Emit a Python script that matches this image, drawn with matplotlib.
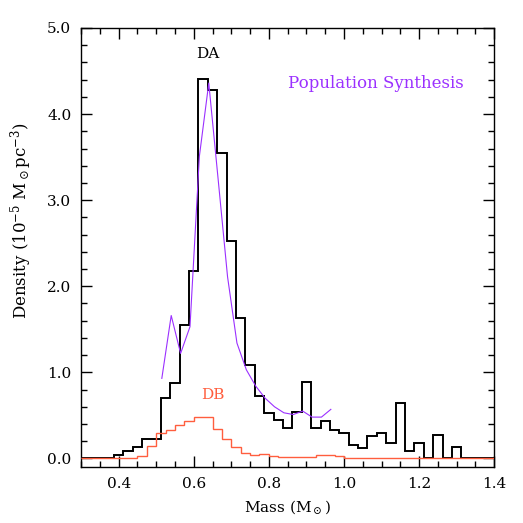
"""White dwarf mass distribution: DA / DB histograms with population synthesis curve."""

import matplotlib
matplotlib.use("Agg")
import matplotlib.pyplot as plt
import matplotlib.ticker as ticker
import numpy as np

# ── Colors ───────────────────────────────────────────────────────────────────
BLACK = "#000000"
DB_RED = "#FF5E3E"
PURPLE = "#9B30FF"

# ── Data ─────────────────────────────────────────────────────────────────────
# DA histogram: bin centres (Msun) and density
da_centers = np.round(np.arange(0.300, 1.4001, 0.025), 3)
da_density = [
    0.01, 0.01, 0.01, 0.01, 0.035, 0.09, 0.13, 0.22, 0.23, 0.70,
    0.875, 1.55, 2.18, 4.41, 4.28, 3.55, 2.52, 1.63, 1.08, 0.73,
    0.53, 0.45, 0.35, 0.535, 0.885, 0.355, 0.43, 0.335, 0.30, 0.16,
    0.12, 0.265, 0.30, 0.18, 0.645, 0.09, 0.18, 0.01, 0.27, 0.01,
    0.13, 0.01, 0.01, 0.01, 0.01,
]

# DB histogram: bin edges and density
db_edges = np.round(np.arange(0.300, 1.4001, 0.025), 3)
db_density = [
    0.005, 0.005, 0.005, 0.005, 0.005, 0.005, 0.025, 0.14, 0.29, 0.335,
    0.39, 0.44, 0.48, 0.48, 0.34, 0.22, 0.13, 0.06, 0.043, 0.055,
    0.03, 0.018, 0.018, 0.02, 0.02, 0.04, 0.045, 0.03, 0.005, 0.005,
    0.005, 0.005, 0.005, 0.005, 0.005, 0.005, 0.005, 0.005, 0.005, 0.005,
    0.005, 0.005, 0.005, 0.005,
]

# Population synthesis curve
pop_mass = [0.515, 0.54, 0.565, 0.59, 0.615, 0.64, 0.665, 0.69, 0.715, 0.74,
            0.765, 0.79, 0.815, 0.84, 0.865, 0.89, 0.915, 0.94, 0.965]
pop_density = [0.93, 1.66, 1.22, 1.53, 3.51, 4.36, 3.24, 2.11, 1.34, 1.03,
               0.84, 0.70, 0.60, 0.53, 0.51, 0.55, 0.48, 0.48, 0.57]

# ── Style ────────────────────────────────────────────────────────────────────
plt.rcParams.update({
    "font.family": "DejaVu Serif",
    "font.size": 11,
    "mathtext.fontset": "dejavuserif",
    "mathtext.default": "regular",
})

fig = plt.figure(figsize=(5.23, 5.23), dpi=100)
ax = fig.add_axes([0.155, 0.107, 0.79, 0.8395])

da_edges = np.append(da_centers - 0.0125, da_centers[-1] + 0.0125)
ax.stairs(da_density, da_edges, baseline=None, color=BLACK, linewidth=1.4, zorder=3)
ax.stairs(db_density, db_edges, baseline=None, color=DB_RED, linewidth=1.0, zorder=4)
ax.plot(pop_mass, pop_density, color=PURPLE, linewidth=0.8, zorder=5)

ax.set_xlim(0.3, 1.4)
ax.set_ylim(-0.1, 5.0)

ax.xaxis.set_major_locator(ticker.MultipleLocator(0.2))
ax.xaxis.set_minor_locator(ticker.MultipleLocator(0.05))
ax.yaxis.set_major_locator(ticker.MultipleLocator(1.0))
ax.yaxis.set_minor_locator(ticker.MultipleLocator(0.2))
ax.xaxis.set_major_formatter(ticker.FormatStrFormatter("%.1f"))
ax.yaxis.set_major_formatter(ticker.FormatStrFormatter("%.1f"))

ax.tick_params(which="both", direction="in", top=True, right=True, width=1.0)
ax.tick_params(which="major", length=8, pad=7, labelsize=11)
ax.tick_params(which="minor", length=4)
for s in ax.spines.values():
    s.set_linewidth(1.0)

ax.set_xlabel(r"Mass (M$_\odot$)", fontsize=11)
ax.set_ylabel(r"Density (10$^{-5}$ M$_\odot$pc$^{-3}$)", fontsize=12)
ax.xaxis.set_label_coords(0.5, -0.071)
ax.yaxis.set_label_coords(-0.113, 0.56)

ax.text(0.638, 4.70, "DA", ha="center", va="center", fontsize=11, color=BLACK)
ax.text(0.65, 0.74, "DB", ha="center", va="center", fontsize=11, color=DB_RED)
ax.text(1.086, 4.36, "Population Synthesis", ha="center", va="center",
        fontsize=12, color=PURPLE)

fig.savefig("out.png", dpi=100, facecolor="white")
plt.close(fig)
